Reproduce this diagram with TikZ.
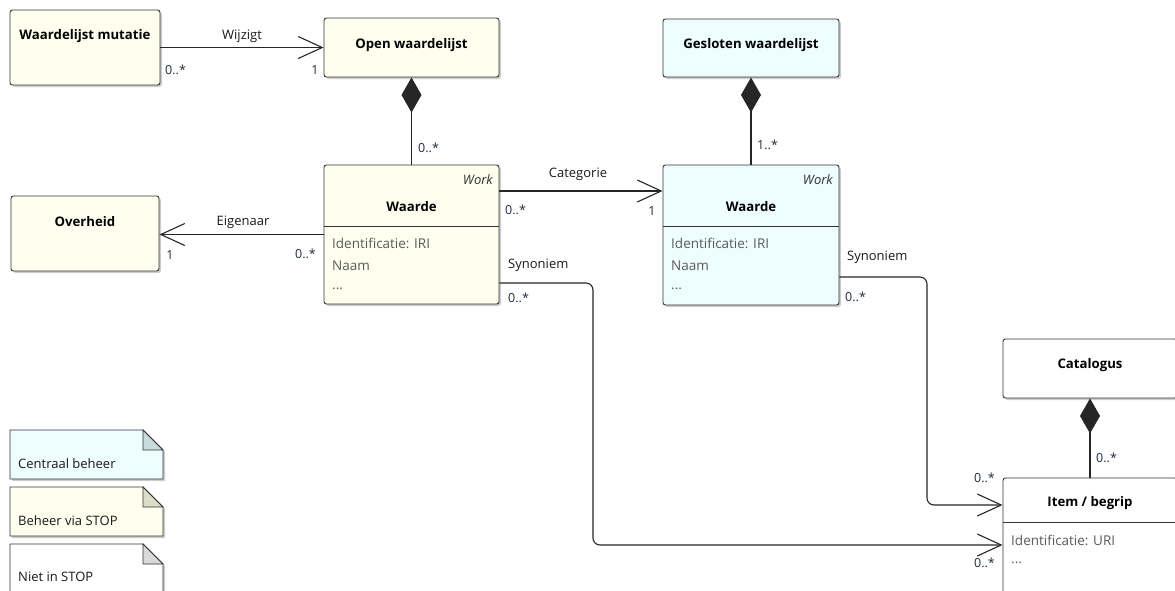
\documentclass[tikz,border=0pt]{standalone}
\usepackage{fontspec}
\setmainfont{Open Sans}
\usetikzlibrary{arrows.meta,shadows}

\definecolor{stopgeel}{HTML}{FFFFF0}
\definecolor{centraal}{HTML}{EEFDFF}
\definecolor{vouwgeel}{HTML}{DCDCC8}
\definecolor{vouwblauw}{HTML}{C8DCDC}
\definecolor{tekstgrijs}{HTML}{5A5A5A}
\definecolor{multi}{HTML}{1E2A40}

\begin{document}
\begin{tikzpicture}[x=1pt,y=-1pt,
    klasse/.style={draw=black!80, line width=0.9pt, rounded corners=2.5pt, inner sep=0pt,
        drop shadow={shadow xshift=2pt,shadow yshift=-2pt,opacity=0.2,fill=black}},
    naam/.style={font=\fontsize{13.2}{15}\selectfont\bfseries, text=black},
    attr/.style={font=\fontsize{13.5}{15}\selectfont, text=tekstgrijs, anchor=west, inner sep=0pt},
    werk/.style={font=\fontsize{13}{15}\selectfont\itshape, text=black!80, anchor=east, inner sep=0pt},
    rol/.style={font=\fontsize{13}{15}\selectfont, text=black!90, inner sep=0pt},
    mult/.style={font=\fontsize{12.5}{14}\selectfont, text=multi, inner sep=0pt},
    assoc/.style={line width=1.1pt, black!85, -{Straight Barb[length=24pt,width=22pt,line width=1.1pt]}},
    deel/.style={line width=1.1pt, black!85, -{Diamond[length=35pt,width=20pt]}},
    notitie/.style={draw=black!80, line width=0.9pt,
        drop shadow={shadow xshift=2pt,shadow yshift=-2pt,opacity=0.2,fill=black}}]
\useasboundingbox (0,0) rectangle (1175,590);
\clip (0,0) rectangle (1175,590);

% klassen
\node[klasse, fill=stopgeel, minimum width=150pt, minimum height=75pt] (mutatie) at (85,47.5) {};
\node[klasse, fill=stopgeel, minimum width=175pt, minimum height=59pt] (open) at (411.5,47.5) {};
\node[klasse, fill=centraal, minimum width=176pt, minimum height=58pt] (gesloten) at (751,48) {};
\node[klasse, fill=stopgeel, minimum width=148pt, minimum height=75pt] (overheid) at (85,233.5) {};
\node[klasse, fill=stopgeel, minimum width=175pt, minimum height=139pt] (waarde1) at (411.5,234.5) {};
\node[klasse, fill=centraal, minimum width=176pt, minimum height=140pt] (waarde2) at (751,235) {};
\node[klasse, fill=white, minimum width=174pt, minimum height=59pt] (catalogus) at (1090,368.5) {};
\node[klasse, fill=white, minimum width=174pt, minimum height=122pt] (item) at (1090,539) {};

% namen
\node[naam] (mutatie-naam) at (85,36) {Waardelijst mutatie};
\node[naam] (open-naam) at (411.5,45) {Open waardelijst};
\node[naam] (gesloten-naam) at (751,45) {Gesloten waardelijst};
\node[naam] (overheid-naam) at (85,222) {Overheid};
\node[naam] (catalogus-naam) at (1090,365) {Catalogus};

% Waarde (open)
\node[werk] (waarde1-werk) at (493,180) {Work};
\node[naam] (waarde1-naam) at (411.5,207) {Waarde};
\draw[line width=0.9pt, black!80] (324,226) -- (499,226);
\node[attr] (waarde1-id) at (332,243) {Identificatie: IRI};
\node[attr] (waarde1-naam2) at (332,266) {Naam};
\node[attr] (waarde1-etc) at (332,289) {...};

% Waarde (gesloten)
\node[werk] (waarde2-werk) at (833,180) {Work};
\node[naam] (waarde2-naam) at (751,207) {Waarde};
\draw[line width=0.9pt, black!80] (663,226) -- (839,226);
\node[attr] (waarde2-id) at (671,243) {Identificatie: IRI};
\node[attr] (waarde2-naam2) at (671,266) {Naam};
\node[attr] (waarde2-etc) at (671,289) {...};

% Item / begrip
\node[naam] (item-naam) at (1090,503) {Item / begrip};
\draw[line width=0.9pt, black!80] (1003,522) -- (1177,522);
\node[attr] (item-id) at (1011,540) {Identificatie: URI};
\node[attr] (item-etc) at (1011,563) {...};

% associaties
\draw[assoc] (mutatie.east) -- (open.west);
\node[rol] at (242,36) {Wijzigt};
\node[mult, anchor=west] at (165,70) {0..*};
\node[mult] at (315,70) {1};

\draw[assoc] (waarde1.west) -- (overheid.east |- waarde1.west);
\node[rol] at (243,222) {Eigenaar};
\node[mult] at (170,255) {1};
\node[mult, anchor=east] at (316,254) {0..*};

\draw[assoc] ([yshift=43.5pt]waarde1.east) -- ([yshift=44pt]waarde2.west);
\node[rol] at (578,174) {Categorie};
\node[mult, anchor=west] at (505,210) {0..*};
\node[mult] at (652,211) {1};

\coordinate (syn1) at (593,545);
\coordinate (syn2) at (927,505);
\draw[assoc, rounded corners=7pt] ([yshift=-48.5pt]waarde1.east) -| (syn1) -- (item.west |- syn1);
\node[rol, anchor=west] at (508,265) {Synoniem};
\node[mult, anchor=west] at (508,298) {0..*};
\node[mult, anchor=east] at (995,563) {0..*};

\draw[assoc, rounded corners=7pt] ([yshift=-42pt]waarde2.east) -| (syn2) -- (item.west |- syn2);
\node[rol, anchor=west] at (847,257) {Synoniem};
\node[mult, anchor=west] at (845,297) {0..*};
\node[mult, anchor=east] at (995,478) {0..*};

% compositie
\draw[deel] (waarde1.north) -- (open.south);
\node[mult, anchor=west] at (418,148) {0..*};
\draw[deel] (waarde2.north) -- (gesloten.south);
\node[mult, anchor=west] at (757,145) {1..*};
\draw[deel] (item.north) -- (catalogus.south);
\node[mult, anchor=west] at (1096,458) {0..*};

% legenda
\path[notitie, fill=centraal] (10,430) -- (143,430) -- (163,450) -- (163,479) -- (10,479) -- cycle;
\draw[line width=0.9pt, black!80, fill=vouwblauw] (143,430) -- (143,450) -- (163,450) -- cycle;
\node[rol, anchor=west] (centraal-tekst) at (18,464) {Centraal beheer};

\path[notitie, fill=stopgeel] (10,487) -- (143,487) -- (163,507) -- (163,536) -- (10,536) -- cycle;
\draw[line width=0.9pt, black!80, fill=vouwgeel] (143,487) -- (143,507) -- (163,507) -- cycle;
\node[rol, anchor=west] (stop-tekst) at (18,521) {Beheer via STOP};

\path[notitie, fill=white] (10,544) -- (143,544) -- (163,564) -- (163,620) -- (10,620) -- cycle;
\draw[line width=0.9pt, black!80, fill=black!15] (143,544) -- (143,564) -- (163,564) -- cycle;
\node[rol, anchor=west] (niet-tekst) at (18,577) {Niet in STOP};
\end{tikzpicture}
\end{document}
